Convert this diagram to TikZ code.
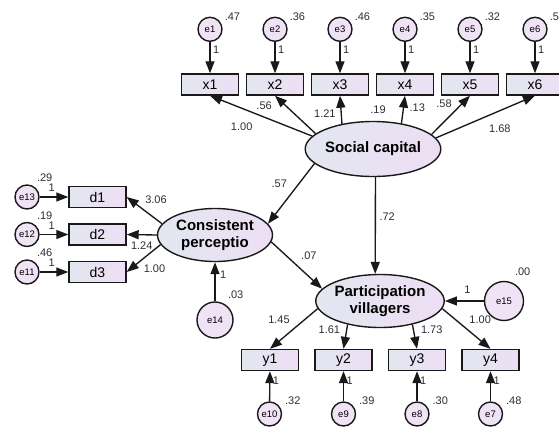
\documentclass[tikz,border=0pt]{standalone}
\usepackage{fontspec}
\setmainfont{Liberation Sans}
\usetikzlibrary{shapes.geometric,arrows.meta}
\definecolor{shadeL}{RGB}{226,231,240}
\definecolor{shadeR}{RGB}{238,222,244}
\definecolor{numgray}{RGB}{45,45,55}
\definecolor{linegray}{RGB}{25,25,25}

\begin{document}
\begin{tikzpicture}[x=1pt,y=-1pt,
  obs/.style={draw=linegray,line width=1.4pt,left color=shadeL,right color=shadeR,
    minimum width=57pt,minimum height=21pt,inner sep=0pt,font=\fontsize{14}{16}\selectfont},
  lat/.style={ellipse,draw=linegray,line width=1.4pt,left color=shadeL,right color=shadeR,
    minimum width=115pt,minimum height=53pt,inner sep=0pt,align=center,
    font=\fontsize{15}{17}\selectfont\bfseries},
  err/.style={circle,draw=linegray,line width=1.4pt,fill=shadeR!85,minimum size=24pt,
    inner sep=0pt,font=\fontsize{9.5}{11}\selectfont},
  num/.style={text=numgray,inner sep=1pt,font=\fontsize{11}{13}\selectfont},
  var/.style={label={[num,label distance=3pt]30:#1}},
  conn/.style={->,line width=1.35pt,linegray},
  >={Triangle[length=12pt,width=9pt]}]
\useasboundingbox (0,0) rectangle (559,429);

% latent variables
\node[lat,minimum height=55pt,label={[num,label distance=6pt,xshift=5pt]90:.19}] (sc) at (373,149) {Social capital};
\node[lat] (cp) at (215,235) {Consistent\\perceptio};
\node[lat] (pv) at (380,301) {Participation\\villagers};

% indicators of social capital
\node[obs] (x1) at (210,84.5) {x1};
\node[obs] (x2) at (275,84.5) {x2};
\node[obs] (x3) at (340,84.5) {x3};
\node[obs] (x4) at (405,84.5) {x4};
\node[obs] (x5) at (470,84.5) {x5};
\node[obs] (x6) at (535,84.5) {x6};
\node[err,var=.47] (e1) at (210,29.3) {e1};
\node[err,var=.36] (e2) at (275,29.3) {e2};
\node[err,var=.46] (e3) at (340,29.3) {e3};
\node[err,var=.35] (e4) at (405,29.3) {e4};
\node[err,var=.32] (e5) at (470,29.3) {e5};
\node[err,var=.5] (e6) at (535,29.3) {e6};

% indicators of consistent perception
\node[obs] (d1) at (97.5,197) {d1};
\node[obs] (d2) at (97.5,234.5) {d2};
\node[obs] (d3) at (97.5,272) {d3};
\node[err,label={[num,label distance=4pt]58:.29}] (e13) at (27,197) {e13};
\node[err,label={[num,label distance=4pt]58:.19}] (e12) at (27,234.5) {e12};
\node[err,label={[num,label distance=4pt]58:.46}] (e11) at (27,272) {e11};
\node[err,minimum size=36pt,label={[num,label distance=5pt]60:.03}] (e14) at (215,320) {e14};

% indicators of participation
\node[obs] (y1) at (270,360) {y1};
\node[obs] (y2) at (343.5,360) {y2};
\node[obs] (y3) at (417,360) {y3};
\node[obs] (y4) at (490.5,360) {y4};
\node[err,label={[num,label distance=4pt]30:.32}] (e10) at (269.5,414) {e10};
\node[err,label={[num,label distance=4pt]30:.39}] (e9) at (343.5,414) {e9};
\node[err,label={[num,label distance=4pt]30:.30}] (e8) at (417,414) {e8};
\node[err,label={[num,label distance=4pt]30:.48}] (e7) at (490.5,414) {e7};
\node[err,minimum size=39pt,label={[num,label distance=6pt]68:.00}] (e15) at (504,301) {e15};

\path[conn] (sc.168) edge node[num,pos=.69,below=13pt] {1.00} (x1.south)
            (sc.165) edge node[num,pos=.73,left=12.5pt] {.56} (x2.south)
            (sc.141) edge node[num,pos=.37,left=4pt] {1.21} (x3.south)
            (sc.42) edge node[num,pos=.55,right=4.5pt] {.13} (x4.south)
            (sc.14) edge node[num,pos=.8,left=9pt] {.58} (x5.south)
            (sc.10) edge node[num,pos=.645,below=12.5pt] {1.68} (x6.south);
\path[conn] (e1) edge node[num,pos=.25,right=1.5pt] {1} (x1)
            (e2) edge node[num,pos=.25,right=1.5pt] {1} (x2)
            (e3) edge node[num,pos=.25,right=1.5pt] {1} (x3)
            (e4) edge node[num,pos=.25,right=1.5pt] {1} (x4)
            (e5) edge node[num,pos=.25,right=1.5pt] {1} (x5)
            (e6) edge node[num,pos=.25,right=1.5pt] {1} (x6);
\path[conn] (sc.194) edge node[num,pos=.34,left=10pt] {.57} (cp.12)
            (sc.-85) edge node[num,pos=.41,right=2.5pt] {.72} (pv.100)
            (cp.-7) edge node[num,pos=.3,right=13pt] {.07} (pv.168);
\path[conn] (cp.168) edge node[num,pos=.17,above=13.5pt] {3.06} (d1.east)
            (cp.180) edge node[num,pos=.5,below=5pt] {1.24} (d2.east)
            (cp.190) edge node[num,pos=.18,below=14pt] {1.00} (d3.east);
\path[conn] (e13) edge node[num,pos=.42,above=3.5pt] {1} (d1)
            (e12) edge node[num,pos=.42,above=3.5pt] {1} (d2)
            (e11) edge node[num,pos=.42,above=3.5pt] {1} (d3)
            (e14) edge node[num,pos=.69,right=3.5pt] {1} (cp.south);
\path[conn] (pv.187) edge node[num,pos=.28,left=13pt] {1.45} (y1.north)
            (pv.216) edge node[num,pos=.2,left=5pt] {1.61} (y2.north)
            (pv.324) edge node[num,pos=.2,right=6pt] {1.73} (y3.north)
            (pv.353) edge node[num,pos=.28,right=12pt] {1.00} (y4.north);
\path[conn] (e10) edge node[num,pos=.69,right=1.5pt] {1} (y1)
            (e9) edge node[num,pos=.69,right=1.5pt] {1} (y2)
            (e8) edge node[num,pos=.69,right=1.5pt] {1} (y3)
            (e7) edge node[num,pos=.69,right=1.5pt] {1} (y4)
            (e15) edge node[num,pos=.42,above=6pt] {1} (pv.east);
\end{tikzpicture}
\end{document}
